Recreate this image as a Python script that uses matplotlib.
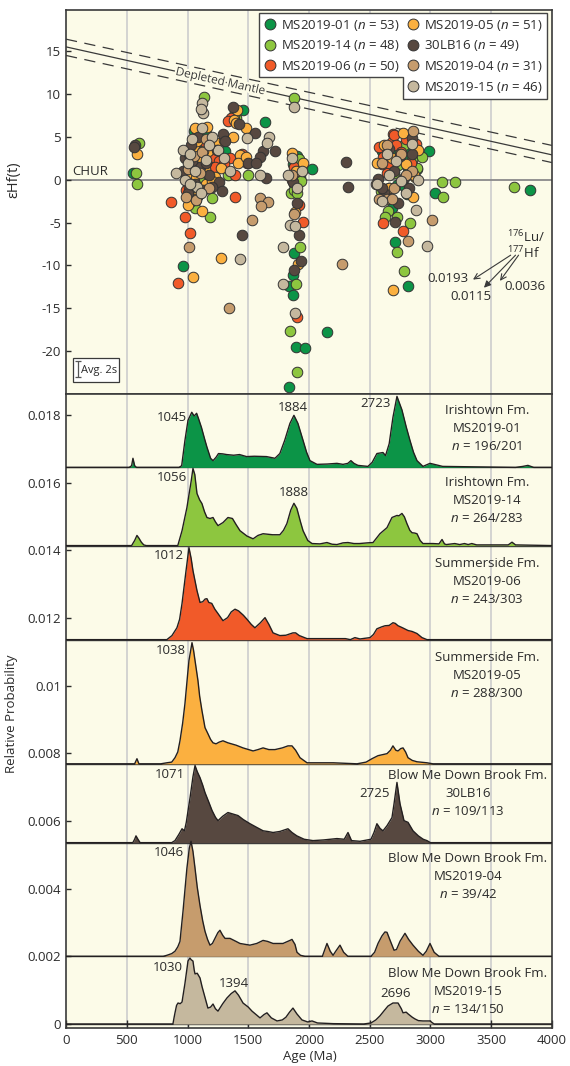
import numpy as np
import matplotlib.pyplot as plt
from matplotlib.lines import Line2D
from matplotlib.patches import Rectangle, Polygon
import matplotlib.patheffects as pe

plt.rcParams['font.family'] = ['Open Sans', 'DejaVu Sans']
plt.rcParams['mathtext.fontset'] = 'custom'
plt.rcParams['mathtext.rm'] = 'Open Sans'
plt.rcParams['mathtext.it'] = 'Open Sans:italic'
plt.rcParams['axes.unicode_minus'] = False

BG = '#fcfbe8'
INK = '#2b2b2b'
GRID = '#cdcdcd'
FS = 9.5

# === Data ===
samples = ['MS2019-01', 'MS2019-14', 'MS2019-06', 'MS2019-05', '30LB16', 'MS2019-04', 'MS2019-15']
n_hf = [53, 48, 50, 51, 49, 31, 46]
colors = ['#0c9447', '#8dc63f', '#f15a29', '#fbb040', '#574840', '#c69c6d', '#c5b89e']

# Hf isotope points (age Ma, eHf(t))
hf01 = [(551, 0.8), (1050, 5.7), (1075, 5.2), (1030, 3.5), (1060, 2.3), (1020, 0.3), (1080, -0.5),
        (1090, -1.8), (1065, -2.5), (1100, 4.5), (1127, 5.5), (1160, 5.2), (1078, 2.9), (1127, 1.6),
        (1045, 1.4), (1136, 0.3), (995, -1.4), (1045, -1.4), (1021, -2.4), (963, -10.1), (1309, 3.4),
        (1292, 2.0), (1457, 8.1), (1638, 6.7), (1901, 2.8), (1870, 1.8), (1910, 0.8), (1925, 0.3),
        (1880, -0.5), (2025, 1.3), (1877, -8.5), (1868, -11.1), (1835, -12.4), (1868, -13.5),
        (2148, -17.8), (1893, -19.5), (1967, -19.6), (1835, -24.2), (2601, 3.3), (2708, 3.5),
        (2823, 3.3), (2806, 2.6), (2988, 3.3), (2750, 2.0), (2815, 1.4), (2889, 1.3), (2724, -0.6),
        (2790, -0.8), (2806, -1.7), (2683, -3.3), (2708, -7.3), (2815, -12.4), (3037, -1.5), (3819, -1.2)]
hf14 = [(584, -0.5), (600, 4.3), (575, 0.8), (1136, 9.7), (1399, 7.2), (1380, 7.5), (1333, 0.5),
        (1498, 0.5), (1202, -2.1), (1185, -4.4), (1062, -3.3), (1050, -1.0), (1090, 0.5), (1110, -0.3),
        (1070, 1.0), (1150, 3.5), (1030, 2.5), (1877, 9.5), (1920, 2.4), (1850, -1.5), (1880, -1.2),
        (1900, -1.6), (1926, -7.8), (1893, -12.2), (1843, -17.6), (1901, -22.4), (1910, 0.5),
        (1935, -0.1), (2733, 1.7), (2889, 1.4), (3095, -0.3), (3202, -0.3), (2930, 2.7), (2650, -3.7),
        (2626, -4.4), (2724, -4.3), (2831, -5.1), (2724, -8.4), (2782, -10.7), (3103, -2.0),
        (3687, -0.9), (2620, 2.2), (2700, 0.8), (2850, 2.3), (2780, 4.0), (2590, -1.3), (2660, -1.0),
        (1000, -0.5)]
hf06 = [(864, -2.6), (922, -12.1), (979, -4.4), (1021, -6.2), (990, -1.2), (1000, 0.5), (1020, -2.6),
        (1050, -0.2), (1040, 1.0), (1080, 2.0), (1100, -1.0), (1010, -0.8), (1190, 3.6), (1210, 2.4),
        (1202, 3.9), (1218, 2.7), (1260, 2.2), (1230, 1.5), (1350, 2.5), (1300, 1.8), (1391, 0.5),
        (1391, -2.0), (1358, 7.2), (1330, 6.8), (1470, 2.6), (1490, 2.0), (1450, 3.0), (1951, -4.9),
        (1901, -16.0), (1880, 1.5), (1860, 0.0), (1920, -3.0), (2691, 5.3), (2683, 4.4), (2700, 5.2),
        (2880, 4.2), (2609, 2.6), (2642, 0.8), (2609, -5.0), (2774, -6.0), (2600, 1.8), (2660, 2.0),
        (2720, 4.0), (2800, 4.8), (2840, 2.0), (2580, 3.8), (2760, 3.2), (1150, 4.0), (1060, 3.0),
        (1120, 1.8)]
hf05 = [(584, 3.0), (1045, -11.4), (1276, -9.1), (1119, -3.6), (1000, -3.0), (1020, -1.0), (1050, 3.8),
        (1080, 4.5), (1030, 1.8), (1060, 0.5), (1100, 2.6), (1150, -0.5), (1160, 6.2), (1407, 8.1),
        (1380, 7.0), (1481, 6.0), (1374, 5.0), (1432, 2.9), (1416, 2.0), (1481, 2.6), (1276, 1.4),
        (1170, 3.3), (1230, 0.3), (1860, 3.1), (1884, -3.8), (1909, -9.8), (1890, 1.0), (1950, 2.0),
        (2774, 5.5), (2872, 0.3), (2856, -2.0), (2691, -12.9), (2864, 0.5), (2620, 4.0), (2750, 3.0),
        (2800, 1.8), (2680, 2.5), (2560, 2.0), (2900, 3.5), (2660, -1.0), (1010, 2.0), (990, 0.5),
        (1090, -1.8), (1240, 4.3), (1140, 1.2), (1200, -0.2), (1070, -2.2), (1300, 4.6), (1130, 3.4),
        (1060, 6.0), (1400, 6.6)]
hf30 = [(568, 4.1), (560, 3.8), (1374, 8.5), (1555, 5.5), (1292, 5.3), (1720, 3.3), (1621, 3.3),
        (1597, 2.7), (1498, 1.9), (1646, 0.2), (1259, -0.3), (1284, -1.3), (1449, -6.5), (960, 1.0),
        (980, 2.5), (1010, 3.0), (1030, 4.0), (1060, -0.5), (1000, -1.5), (1100, 1.5), (1150, 2.0),
        (1240, 3.5), (1310, 4.5), (1200, -0.8), (1420, 6.5), (1900, -2.7), (1934, -9.5), (1870, -0.3),
        (1920, -6.5), (1880, -10.5), (2305, 2.1), (2321, -0.9), (2568, 0.1), (2733, -2.7), (2708, -4.9),
        (2848, 4.9), (2620, -1.5), (2700, 1.0), (2780, 0.2), (2600, -1.0), (2660, 3.6), (2820, -1.0),
        (2750, 2.8), (1040, 2.2), (1090, 5.0), (1130, -1.2), (1180, 0.5), (1560, 2.0), (2850, 3.0)]
hf04 = [(1012, -7.9), (1342, -15.0), (1531, -4.7), (1597, -2.1), (1663, -2.6), (1605, -3.1), (990, -2.0),
        (1030, -0.5), (1050, 2.8), (1070, -2.4), (1100, 0.8), (1120, 3.2), (1180, -1.0), (2272, -9.8),
        (2642, -2.3), (2683, -2.3), (2856, 5.7), (2815, -7.2), (3012, -4.7), (2600, 2.0), (2700, -1.0),
        (2850, 1.0), (2640, 4.0), (2760, 3.0), (1880, -4.0), (1860, 0.5), (2550, -0.5), (1150, 4.8),
        (1000, 1.2), (2580, -2.2), (2800, 0.5)]
hf15 = [(1119, 8.9), (1127, 7.8), (1110, 8.3), (905, 0.8), (1432, -9.2), (1490, 4.9), (1671, 5.0),
        (1654, 4.3), (1040, 4.8), (1000, 2.0), (1060, 1.0), (980, 0.0), (1080, -0.8), (1150, 2.3),
        (1200, 5.0), (1250, 3.5), (1877, 8.5), (1843, -5.3), (1884, -5.4), (1786, -7.9), (1786, -12.2),
        (1884, -15.5), (1860, 2.5), (1830, 0.5), (1900, -1.0), (2971, -7.7), (2600, -2.5), (2660, 0.5),
        (2720, 2.2), (2800, -1.5), (2560, -0.5), (2850, 4.2), (2900, 0.0), (1110, -1.5), (1020, -0.5),
        (1300, 2.5), (1350, 1.0), (1600, 0.5), (1180, 4.0), (960, 3.5), (1940, 1.0), (2640, 3.0),
        (2760, -0.2), (2880, -3.5), (1120, 6.0), (1020, 3.0)]
hf_points = [hf01, hf14, hf06, hf05, hf30, hf04, hf15]

# depleted mantle array (age, eHf) ends
dm_age = [0, 4000]
dm_mid = [15.5, 2.9]
dm_hi = [16.4, 4.0]
dm_lo = [14.5, 2.0]

# KDE curves: (age Ma, height above stripe baseline in 1e-3)
kde01 = [(0, 0), (520, 0), (540, 0.05), (551, 0.27), (565, 0.05), (580, 0), (930, 0), (952, 0.05),
         (979, 0.8), (1004, 1.39), (1035, 1.63), (1055, 1.52), (1075, 1.6), (1090, 1.45), (1115, 1.18),
         (1140, 0.85), (1160, 0.6), (1190, 0.27), (1210, 0.2), (1235, 0.3), (1255, 0.41), (1290, 0.4),
         (1322, 0.38), (1380, 0.36), (1428, 0.38), (1486, 0.32), (1550, 0.33), (1650, 0.32), (1720, 0.27),
         (1760, 0.41), (1800, 0.8), (1843, 1.3), (1876, 1.54), (1909, 1.3), (1951, 0.8), (1980, 0.45),
         (2008, 0.2), (2066, 0.09), (2150, 0.1), (2230, 0.12), (2280, 0.09), (2320, 0.12), (2345, 0.2),
         (2370, 0.12), (2403, 0.06), (2485, 0.03), (2520, 0.15), (2559, 0.41), (2609, 0.44), (2630, 0.35),
         (2660, 0.7), (2691, 1.48), (2724, 2.1), (2765, 1.7), (2800, 1.2), (2831, 0.8), (2860, 0.45),
         (2889, 0.2), (2938, 0.03), (2996, 0.12), (3020, 0.1), (3100, 0.03), (3700, 0.0), (3760, 0.03),
         (3802, 0.06), (3850, 0.0), (4000, 0)]
kde14 = [(0, 0), (540, 0), (565, 0.15), (584, 0.3), (600, 0.22), (620, 0.1), (640, 0.02), (660, 0),
         (920, 0), (955, 0.44), (995, 1.12), (1030, 1.9), (1045, 2.28), (1060, 2.1), (1078, 1.54),
         (1100, 1.35), (1119, 1.24), (1140, 1.0), (1160, 0.83), (1185, 0.8), (1210, 0.83), (1230, 0.7),
         (1251, 0.59), (1292, 0.68), (1333, 0.83), (1370, 0.8), (1400, 0.62), (1432, 0.44), (1490, 0.28),
         (1540, 0.2), (1580, 0.3), (1622, 0.35), (1700, 0.32), (1760, 0.32), (1790, 0.45), (1818, 0.65),
         (1850, 1.05), (1876, 1.25), (1900, 1.1), (1930, 0.7), (1951, 0.44), (1990, 0.15), (2025, 0.06),
         (2090, 0.05), (2148, 0.09), (2190, 0.04), (2230, 0.03), (2280, 0.08), (2321, 0.09), (2370, 0.06),
         (2415, 0.06), (2480, 0.08), (2527, 0.09), (2584, 0.35), (2642, 0.53), (2683, 0.83), (2724, 0.89),
         (2740, 0.88), (2765, 0.95), (2785, 0.85), (2806, 0.65), (2830, 0.45), (2848, 0.38), (2870, 0.37),
         (2889, 0.35), (2915, 0.15), (2938, 0.06), (3020, 0.06), (3070, 0.05), (3095, 0.18), (3115, 0.05),
         (3130, 0.03), (3200, 0.06), (3240, 0.03), (3280, 0.06), (3310, 0.03), (3340, 0.06), (3380, 0.02),
         (3640, 0.02), (3671, 0.1), (3700, 0.02), (4000, 0)]
kde06 = [(0, 0), (830, 0), (872, 0.12), (913, 0.35), (935, 0.6), (955, 1.07), (988, 2.04), (1012, 2.72),
         (1030, 2.4), (1045, 2.04), (1078, 1.45), (1103, 1.1), (1125, 1.12), (1145, 1.2), (1160, 1.21),
         (1175, 1.1), (1200, 1.07), (1225, 0.9), (1251, 0.77), (1292, 0.56), (1330, 0.65), (1360, 0.82),
         (1391, 0.9), (1420, 0.85), (1460, 0.72), (1490, 0.6), (1525, 0.45), (1555, 0.35), (1600, 0.5),
         (1638, 0.65), (1670, 0.45), (1704, 0.2), (1760, 0.12), (1810, 0.13), (1868, 0.2), (1890, 0.2),
         (1920, 0.12), (1984, 0.03), (2300, 0.03), (2340, 0.0), (2378, 0.06), (2420, 0.02), (2502, 0.06),
         (2530, 0.15), (2559, 0.32), (2600, 0.38), (2626, 0.41), (2660, 0.42), (2691, 0.5), (2710, 0.48),
         (2733, 0.41), (2770, 0.35), (2815, 0.27), (2850, 0.24), (2889, 0.18), (2930, 0.06), (2971, 0),
         (4000, 0)]
kde05 = [(0, 0), (565, 0), (584, 0.15), (600, 0), (780, 0), (830, 0.03), (870, 0.05), (897, 0.18),
         (920, 0.35), (938, 0.68), (960, 1.2), (979, 1.78), (1000, 2.6), (1012, 3.05), (1037, 3.58),
         (1050, 3.35), (1062, 3.05), (1086, 2.46), (1100, 2.0), (1119, 1.57), (1144, 1.07), (1168, 0.89),
         (1190, 0.72), (1210, 0.62), (1235, 0.59), (1260, 0.64), (1292, 0.68), (1333, 0.62), (1400, 0.55),
         (1457, 0.47), (1540, 0.38), (1580, 0.42), (1622, 0.47), (1670, 0.42), (1720, 0.42), (1780, 0.47),
         (1827, 0.53), (1860, 0.53), (1890, 0.4), (1926, 0.18), (1984, 0.03), (2200, 0.03), (2395, 0),
         (2470, 0.05), (2518, 0.15), (2568, 0.24), (2642, 0.3), (2670, 0.4), (2691, 0.53), (2715, 0.4),
         (2733, 0.38), (2755, 0.45), (2774, 0.47), (2795, 0.35), (2815, 0.18), (2850, 0.1), (2889, 0.06),
         (2971, 0.03), (3020, 0), (4000, 0)]
kde30 = [(0, 0), (550, 0), (565, 0.1), (576, 0.2), (592, 0.1), (610, 0), (870, 0), (897, 0.06),
         (930, 0.25), (955, 0.41), (975, 0.35), (990, 0.6), (1021, 1.33), (1045, 1.95), (1062, 2.28),
         (1080, 2.1), (1103, 1.92), (1125, 1.7), (1144, 1.48), (1175, 1.2), (1202, 0.95), (1230, 0.75),
         (1251, 0.65), (1290, 0.78), (1333, 0.89), (1370, 0.85), (1416, 0.8), (1460, 0.68), (1514, 0.56),
         (1570, 0.45), (1622, 0.35), (1660, 0.33), (1704, 0.3), (1760, 0.33), (1827, 0.41), (1860, 0.3),
         (1900, 0.2), (1960, 0.1), (2033, 0.06), (2120, 0.08), (2230, 0.12), (2290, 0.1), (2321, 0.3),
         (2350, 0.06), (2420, 0.04), (2510, 0.1), (2535, 0.3), (2559, 0.56), (2585, 0.42), (2609, 0.35),
         (2642, 0.5), (2683, 0.74), (2700, 1.15), (2724, 1.78), (2749, 1.15), (2782, 0.65), (2815, 0.6),
         (2856, 0.35), (2900, 0.2), (2940, 0.1), (2971, 0.06), (3000, 0), (4000, 0)]
kde04 = [(0, 0), (800, 0), (830, 0.03), (870, 0.08), (897, 0.15), (920, 0.28), (938, 0.44), (963, 1.33),
         (995, 2.6), (1015, 3.2), (1029, 3.4), (1045, 3.1), (1062, 2.6), (1080, 2.05), (1103, 1.5),
         (1125, 1.05), (1144, 0.74), (1165, 0.5), (1185, 0.33), (1205, 0.38), (1226, 0.53), (1250, 0.7),
         (1267, 0.77), (1290, 0.62), (1309, 0.53), (1350, 0.53), (1400, 0.44), (1432, 0.38), (1514, 0.33),
         (1570, 0.38), (1622, 0.47), (1660, 0.44), (1704, 0.38), (1786, 0.38), (1843, 0.47), (1860, 0.5),
         (1885, 0.35), (1901, 0.12), (1930, 0.03), (1967, 0), (2110, 0), (2130, 0.2), (2148, 0.38),
         (2175, 0.15), (2198, 0.03), (2220, 0.15), (2255, 0.33), (2285, 0.12), (2320, 0), (2510, 0),
         (2540, 0.12), (2568, 0.38), (2600, 0.6), (2625, 0.72), (2642, 0.71), (2670, 0.45), (2700, 0.18),
         (2720, 0.2), (2750, 0.45), (2790, 0.68), (2820, 0.5), (2856, 0.33), (2900, 0.15), (2938, 0.03),
         (2965, 0.15), (2996, 0.38), (3030, 0.12), (3070, 0), (4000, 0)]
kde15 = [(0, 0), (880, 0), (890, 0.2), (897, 0.33), (910, 0.55), (922, 0.62), (940, 0.6), (955, 0.65),
         (979, 1.2), (1004, 1.86), (1020, 1.95), (1030, 1.9), (1045, 1.86), (1055, 1.6), (1062, 1.48),
         (1080, 1.5), (1103, 1.36), (1120, 1.1), (1136, 0.89), (1168, 0.47), (1190, 0.5), (1210, 0.59),
         (1230, 0.45), (1251, 0.38), (1290, 0.6), (1325, 0.77), (1360, 0.9), (1391, 0.98), (1420, 0.85),
         (1457, 0.62), (1500, 0.5), (1531, 0.38), (1597, 0.18), (1630, 0.28), (1654, 0.33), (1690, 0.18),
         (1737, 0.09), (1780, 0.12), (1810, 0.2), (1840, 0.35), (1868, 0.47), (1900, 0.3), (1942, 0.12),
         (1990, 0.06), (2025, 0.09), (2070, 0.03), (2200, 0.01), (2450, 0), (2510, 0.03), (2550, 0.12),
         (2584, 0.24), (2620, 0.4), (2650, 0.53), (2691, 0.62), (2733, 0.62), (2760, 0.45), (2774, 0.33),
         (2800, 0.35), (2815, 0.3), (2850, 0.2), (2872, 0.15), (2900, 0.1), (2938, 0.09), (2996, 0.09),
         (3010, 0.05), (3030, 0), (4000, 0)]
kde_curves = [kde01, kde14, kde06, kde05, kde30, kde04, kde15]
kde_base = [0.01645, 0.01414, 0.01136, 0.00769, 0.00536, 0.002, 0.0]

peak_text = ['1045', '1884', '2723', '1056', '1888', '1012', '1038', '1071', '2725', '1046', '1030', '1394', '2696']
peak_x = [872, 1868, 2551, 872, 1877, 848, 864, 856, 2543, 848, 840, 1383, 2716]
peak_y = [0.01793, 0.01823, 0.01834, 0.01615, 0.01571, 0.01385, 0.01104, 0.00737, 0.0068,
          0.00506, 0.00166, 0.00121, 0.00089]

sample_fm = ['Irishtown Fm.', 'Irishtown Fm.', 'Summerside Fm.', 'Summerside Fm.',
             'Blow Me Down Brook Fm.', 'Blow Me Down Brook Fm.', 'Blow Me Down Brook Fm.']
sample_n = ['196/201', '264/283', '243/303', '288/300', '109/113', '39/42', '134/150']
label_x = [3465, 3465, 3465, 3465, 3309, 3309, 3309]
label_y = [0.01760, 0.01547, 0.01308, 0.01030, 0.00680, 0.00435, 0.00095]

lu_hf_ratio = ['0.0193', '0.0115', '0.0036']

# === Figure ===
fig = plt.figure(figsize=(5.7, 10.66), dpi=100)
ax1 = fig.add_axes([0.1158, 0.6304, 0.8526, 0.3602])
ax2 = fig.add_axes([0.1158, 0.0356, 0.8526, 0.5948])

for ax in (ax1, ax2):
    ax.set_facecolor(BG)
    ax.set_xlim(0, 4000)
    for xv in range(500, 4000, 500):
        ax.axvline(xv, color=GRID, lw=1.2, zorder=0)
    for s in ax.spines.values():
        s.set_color('#3a3a3a')
        s.set_linewidth(1.2)
    ax.tick_params(direction='in', length=3.5, width=1, colors=INK, labelsize=FS)

# --- top: eHf(t) vs age ---
ax1.set_ylim(-25, 19.8)
ax1.set_yticks([15, 10, 5, 0, -5, -10, -15, -20])
ax1.tick_params(axis='x', bottom=False, labelbottom=False)
ax1.axhline(0, color='#8a8a8a', lw=1.3, zorder=1)
ax1.text(49, 0.95, 'CHUR', fontsize=FS, color=INK, va='center', ha='left')

ax1.plot(dm_age, dm_mid, color='#3a3a3a', lw=0.9, zorder=1)
ax1.plot(dm_age, dm_hi, color='#3a3a3a', lw=0.9, dashes=(9, 6), zorder=1)
ax1.plot(dm_age, dm_lo, color='#3a3a3a', lw=0.9, dashes=(9, 6), zorder=1)

p1 = ax1.transData.transform((dm_age[0], dm_mid[0]))
p2 = ax1.transData.transform((dm_age[1], dm_mid[1]))
ang = np.degrees(np.arctan2(p2[1] - p1[1], p2[0] - p1[0]))
tx = 1270
ty = np.interp(tx, dm_age, dm_mid)
ax1.text(tx, ty, 'Depleted Mantle', fontsize=8.5, color='#3a3a3a', rotation=ang,
         rotation_mode='anchor', ha='center', va='center', zorder=2,
         path_effects=[pe.withStroke(linewidth=3, foreground=BG)])

handles = []
for pts, col, name, n in zip(hf_points, colors, samples, n_hf):
    arr = np.array(pts)
    ax1.scatter(arr[:, 0], arr[:, 1], s=58, c=col, edgecolors='#333333', linewidths=0.7, zorder=3)
    handles.append(Line2D([], [], ls='none', marker='o', ms=7.8, mfc=col, mec='#333333', mew=0.7,
                          label=f'{name} ($n$ = {n})'))
blank = Line2D([], [], ls='none', marker=None, label=' ')
leg_handles = handles[:3] + [blank] + handles[3:]
leg = ax1.legend(handles=leg_handles, ncol=2, loc='upper right', bbox_to_anchor=(0.993, 0.995),
                 fontsize=FS, frameon=False, handlelength=0.9, handletextpad=0.35,
                 columnspacing=0.6, labelspacing=0.42, borderpad=0.35, borderaxespad=0.1)
leg.set_zorder(6)
for t in leg.get_texts():
    t.set_color(INK)

# notched legend box: left column has one row fewer
fig.canvas.draw()
rend = fig.canvas.get_renderer()
lb = leg.get_window_extent(rend)
t06 = leg.get_texts()[2].get_window_extent(rend)
t05 = leg.get_texts()[4].get_window_extent(rend)
notch_x = t05.x0 - (0.9 + 0.35) * FS * fig.dpi / 72 - 4
notch_y = t06.y0 - 3
corners = [(lb.x0, lb.y1), (lb.x1, lb.y1), (lb.x1, lb.y0), (notch_x, lb.y0), (notch_x, notch_y),
           (lb.x0, notch_y)]
corners = ax1.transAxes.inverted().transform(corners)
ax1.add_patch(Polygon(corners, closed=True, fc='white', ec='#444444', lw=1.0,
                      transform=ax1.transAxes, zorder=5, clip_on=False))

# Avg. 2s box
ax1.add_patch(Rectangle((58, -23.57), 378, 2.8, fc='white', ec='#3a3a3a', lw=0.9, zorder=4))
ax1.errorbar([99], [-22.05], yerr=[0.95], color='#555555', lw=0.9, capsize=2.5, capthick=0.9, zorder=5)
ax1.text(123, -22.25, 'Avg. 2s', fontsize=8, color=INK, va='center', ha='left', zorder=5)

# Lu/Hf arrows
ax1.text(3630, -7.6, '$^{176}$Lu/\n$^{177}$Hf', fontsize=FS, color=INK, ha='left', va='center',
         linespacing=0.95)
arrow_tip = [(3350, -11.65), (3440, -12.6), (3572, -11.8)]
arrow_tail = [(3660, -8.8), (3700, -8.8), (3725, -8.8)]
arrow_head = ['->', '-|>', '->']
lab_pos = [(3144, -11.5), (3333, -13.6), (3778, -12.4)]
for txt, tip, tail, hd, lp in zip(lu_hf_ratio, arrow_tip, arrow_tail, arrow_head, lab_pos):
    ax1.annotate('', xy=tip, xytext=tail,
                 arrowprops=dict(arrowstyle=hd, color='#3a3a3a', lw=0.8, shrinkA=0, shrinkB=0))
    ax1.text(lp[0], lp[1], txt, fontsize=FS, color=INK, ha='center', va='center')

ax1.set_ylabel('εHf(t)', fontsize=10.5, color=INK)
ax1.yaxis.set_label_coords(-0.092, 0.557)

# --- bottom: KDE stack ---
ax2.set_ylim(-0.00012, 0.01862)
yt = [0, 0.002, 0.004, 0.006, 0.008, 0.01, 0.012, 0.014, 0.016, 0.018]
ax2.set_yticks(yt)
ax2.set_yticklabels(['0', '0.002', '0.004', '0.006', '0.008', '0.01', '0.012', '0.014', '0.016', '0.018'])
ax2.set_xticks(range(0, 4001, 500))
ax2.tick_params(axis='x', length=6, pad=4)

for curve, base, col in zip(kde_curves, kde_base, colors):
    arr = np.array(curve)
    age = arr[:, 0]
    top = base + arr[:, 1] * 1e-3
    ax2.axhline(base, color='#3a3a3a', lw=1.0, zorder=1)
    ax2.fill_between(age, base, top, color=col, lw=0, zorder=2)
    ax2.plot(age, top, color='#231f20', lw=1.0, zorder=3)

for t, x, y in zip(peak_text, peak_x, peak_y):
    ax2.text(x, y, t, fontsize=FS, color=INK, ha='center', va='center', zorder=4)

line_gap = 0.000533  # one text line in data units
for fm, name, n, x, y in zip(sample_fm, samples, sample_n, label_x, label_y):
    for k, line in enumerate([fm, name, f'$n$ = {n}']):
        ax2.text(x, y + (1 - k) * line_gap, line, fontsize=FS, color=INK, ha='center', va='center',
                 zorder=4)

ax2.set_xlabel('Age (Ma)', fontsize=FS, color=INK)
ax2.xaxis.set_label_coords(0.502, -0.034)
ax2.set_ylabel('Relative Probability', fontsize=FS, color=INK)
ax2.yaxis.set_label_coords(-0.099, 0.495)

fig.savefig('out.png', dpi=100)
